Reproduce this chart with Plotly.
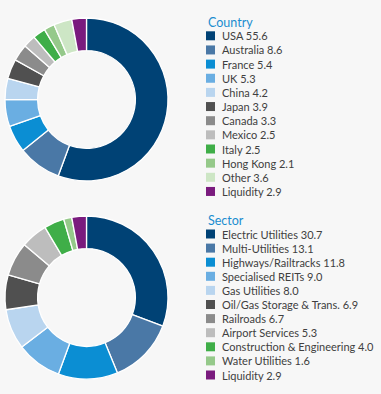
import plotly.graph_objects as go

# ---- data ----
country_labels = ["USA", "Australia", "France", "UK", "China", "Japan", "Canada",
                  "Mexico", "Italy", "Hong Kong", "Other", "Liquidity"]
country_values = [55.6, 8.6, 5.4, 5.3, 4.2, 3.9, 3.3, 2.5, 2.5, 2.1, 3.6, 2.9]
country_colors = ["#004275", "#4a78a6", "#0b8ed3", "#6aaee2", "#b9d5ef", "#505050",
                  "#8b8b8b", "#bdbdbd", "#3fae48", "#95c98a", "#cde6c5", "#7a1b7e"]

sector_labels = ["Electric Utilities", "Multi-Utilities", "Highways/Railtracks",
                 "Specialised REITs", "Gas Utilities", "Oil/Gas Storage & Trans.",
                 "Railroads", "Airport Services", "Construction & Engineering",
                 "Water Utilities", "Liquidity"]
sector_values = [30.7, 13.1, 11.8, 9.0, 8.0, 6.9, 6.7, 5.3, 4.0, 1.6, 2.9]
sector_colors = ["#004275", "#4a78a6", "#0b8ed3", "#6aaee2", "#b9d5ef", "#505050",
                 "#8b8b8b", "#bdbdbd", "#3fae48", "#95c98a", "#7a1b7e"]

titles = ["Country", "Sector"]

W, H = 381, 394
BG = "#f7f7f7"
FONT = "Lato"

def px_x(x):
    return x / W

def px_y(y):
    return 1 - y / H

fig = go.Figure()

# donut geometry (pixels)
donuts = [
    dict(labels=country_labels, values=country_values, colors=country_colors,
         top=18, title_y=22, first_row=35.8, step=14.15),
    dict(labels=sector_labels, values=sector_values, colors=sector_colors,
         top=216, title_y=220, first_row=234, step=14.1),
]
size = 163
left = 5

shapes = []
annotations = []
for d, title in zip(donuts, titles):
    fig.add_trace(go.Pie(
        labels=d["labels"], values=d["values"],
        marker=dict(colors=d["colors"], line=dict(color="white", width=1.3)),
        hole=0.6, sort=False, direction="clockwise", rotation=0,
        textinfo="none", hoverinfo="label+value", showlegend=False,
        domain=dict(x=[px_x(left), px_x(left + size)],
                    y=[px_y(d["top"] + size), px_y(d["top"])]),
    ))
    annotations.append(dict(
        x=px_x(206), y=px_y(d["title_y"]), xref="paper", yref="paper",
        xanchor="left", yanchor="middle", showarrow=False,
        text=title, font=dict(family=FONT, size=12.5, color="#1b8dcf"),
    ))
    for i, (lab, val, col) in enumerate(zip(d["labels"], d["values"], d["colors"])):
        cy = d["first_row"] + i * d["step"]
        shapes.append(dict(
            type="rect", xref="paper", yref="paper",
            x0=px_x(206), x1=px_x(215), y0=px_y(cy - 4.5), y1=px_y(cy + 4.5),
            fillcolor=col, line=dict(width=0),
        ))
        annotations.append(dict(
            x=px_x(220), y=px_y(cy), xref="paper", yref="paper",
            xanchor="left", yanchor="middle", showarrow=False,
            text=f"{lab} {val:.1f}", font=dict(family=FONT, size=11, color="#404040"),
        ))

fig.update_layout(
    width=W, height=H, margin=dict(l=0, r=0, t=0, b=0),
    paper_bgcolor=BG, plot_bgcolor=BG,
    shapes=shapes, annotations=annotations, showlegend=False,
)

fig.write_html(
    "out.html",
    config={"displayModeBar": False},
    post_script="document.body.style.margin='0';document.body.style.background='#f7f7f7';",
)
